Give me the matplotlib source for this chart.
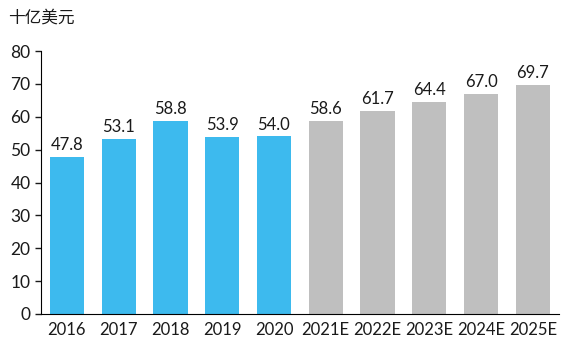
import matplotlib
matplotlib.use("Agg")
import matplotlib.pyplot as plt

categories = ["2016", "2017", "2018", "2019", "2020", "2021E", "2022E", "2023E", "2024E", "2025E"]
values = [47.8, 53.1, 58.8, 53.9, 54.0, 58.6, 61.7, 64.4, 67.0, 69.7]
actual_color = "#3DBAEE"
forecast_color = "#BFBFBF"
colors = [actual_color if not c.endswith("E") else forecast_color for c in categories]

plt.rcParams['font.family'] = ['Lato', 'Noto Sans CJK SC', 'DejaVu Sans']

fig = plt.figure(figsize=(5.72, 3.53), dpi=100)
ax = fig.add_axes([0.0717, 0.1105, 0.905, 0.745])
x = list(range(len(categories)))
bars = ax.bar(x, values, width=0.66, color=colors)
for xi, v in zip(x, values):
    ax.text(xi, v + 1.2, f"{v:.1f}", ha="center", va="bottom", fontsize=12, color="#1a1a1a")

ax.set_xlim(-0.5, len(categories) - 0.5)
ax.set_ylim(0, 80)
ax.set_yticks(range(0, 81, 10))
ax.set_xticks(x)
ax.set_xticklabels(categories)
ax.tick_params(axis="x", length=0, labelsize=12, pad=6, colors="#1a1a1a")
ax.tick_params(axis="y", length=4, labelsize=12.5, colors="#1a1a1a", width=1)
for s in ["top", "right"]:
    ax.spines[s].set_visible(False)
ax.spines["left"].set_color("#000000")
ax.spines["bottom"].set_color("#000000")

fig.text(0.014, 0.948, "十亿美元", fontsize=12, family=['Noto Sans CJK SC', 'DejaVu Sans'], va="center", ha="left", color="#1a1a1a")

fig.savefig("out.png", dpi=100)
